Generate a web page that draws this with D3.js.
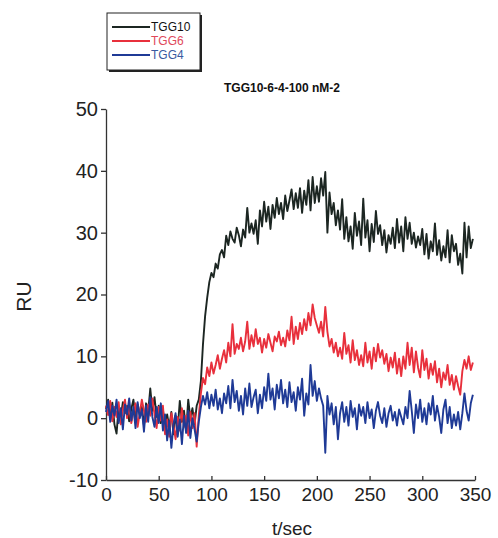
<!DOCTYPE html>
<html>
<head>
<meta charset="utf-8">
<script src="https://cdn.jsdelivr.net/npm/d3@7"></script>
<style>
  body { margin: 0; background: #fff; }
  svg { font-family: "Liberation Sans", Arial, sans-serif; }
</style>
</head>
<body>
<div id="chart"></div>
<script>
// sensorgram, one reading every 2 s starting at t = 0
const tStep = 2;
const seriesNames = ['TGG10', 'TGG6', 'TGG4'];
const seriesColors = ['#1c2622', '#e8303c', '#1f3a96'];
const legendTextColors = ['#111', '#e0485a', '#3a5aa0'];
const xTicks = [0, 50, 100, 150, 200, 250, 300, 350];
const yTicks = [-10, 0, 10, 20, 30, 40, 50];

const tgg10 = [
  1.5, 3.0, 0.5, 2.5, -1.0, -2.5, 1.8, 0.2, 2.6, 0.8, 2.0, -0.5, 1.5, 3.0, 0.0, 2.2, 0.6, 1.8, -1.2, 2.4,
  1.0, 4.8, 1.2, 3.4, 0.2, 2.0, -0.8, 1.4, -2.0, 0.6, -1.5, 1.0, -2.6, 0.4, -1.8, 2.8, -0.6, 1.2, -2.2, 3.0,
  0.0, 1.6, -1.0, 2.0, 3.0, 6.0, 12.0, 16.5, 19.5, 22.0, 23.5, 22.8, 25.0, 24.2, 26.5, 27.2, 26.0, 29.5, 28.0, 30.2,
  29.0, 28.4, 30.8, 29.6, 27.8, 30.5, 29.2, 34.0, 30.0, 31.5, 29.8, 32.0, 28.2, 33.6, 31.0, 35.0, 31.8, 34.2, 30.6, 34.5,
  32.4, 35.6, 33.0, 34.8, 32.2, 36.0, 33.5, 35.2, 37.0, 33.8, 36.4, 34.0, 37.2, 33.2, 36.8, 34.5, 38.5, 33.6, 39.0, 34.8,
  37.5, 35.0, 38.8, 36.0, 39.8, 30.0, 36.5, 33.0, 34.8, 31.2, 33.6, 30.5, 35.4, 29.0, 32.5, 28.6, 31.0, 27.4, 33.2, 29.5,
  31.8, 28.0, 35.5, 29.2, 32.0, 27.0, 31.4, 28.5, 33.5, 29.8, 31.2, 28.0, 30.4, 26.8, 29.6, 28.2, 30.8, 27.5, 32.2, 28.4,
  31.0, 27.0, 32.5, 29.0, 31.6, 28.2, 30.0, 27.6, 29.4, 28.0, 30.6, 26.5, 29.8, 25.8, 28.6, 27.0, 31.5, 26.4, 28.8, 25.5,
  27.8, 26.0, 30.4, 25.2, 29.6, 27.0, 28.2, 24.8, 26.6, 23.4, 31.6, 26.0, 31.0, 27.5, 29.0
];
const tgg6 = [
  2.0, 0.5, 2.8, -0.5, 1.8, 0.2, 2.6, -1.0, 1.4, 3.0, 0.0, 2.2, -0.8, 1.0, 2.4, -1.4, 0.8, 3.0, 1.2, -0.6,
  2.2, 0.4, 3.2, 0.6, -1.6, 1.8, -0.4, 2.0, -2.6, -0.2, -3.0, 0.8, -1.2, -3.4, 0.2, -2.0, 1.6, -1.4, 0.4, -2.8,
  1.0, -1.6, 0.8, -4.6, 0.4, 4.0, 6.5, 5.5, 8.2, 6.8, 9.0, 7.2, 8.6, 10.2, 8.0, 9.6, 11.0, 9.0, 12.2, 10.0,
  15.2, 10.4, 12.0, 11.2, 13.0, 10.8, 12.4, 15.6, 11.2, 13.4, 11.6, 14.4, 12.0, 13.0, 10.6, 12.8, 11.4, 13.6, 12.2, 10.8,
  13.2, 12.4, 14.0, 11.8, 13.0, 11.6, 14.2, 12.6, 16.4, 12.0, 14.8, 12.8, 15.4, 13.6, 16.0, 14.2, 17.0, 15.0, 18.4, 16.2,
  15.0, 13.8, 15.6, 13.2, 18.0, 14.0, 11.6, 12.8, 10.6, 12.2, 10.0, 11.4, 9.6, 13.8, 10.4, 11.8, 9.0, 12.6, 9.4, 11.0,
  8.6, 10.2, 8.4, 12.2, 9.0, 10.8, 8.0, 11.4, 9.2, 12.0, 9.8, 11.0, 8.8, 10.4, 7.6, 9.8, 8.2, 10.6, 7.2, 9.6,
  6.8, 10.0, 8.0, 12.2, 8.6, 11.4, 7.4, 10.8, 8.2, 6.6, 11.0, 7.8, 9.6, 6.4, 8.8, 7.0, 9.2, 5.8, 8.0, 5.0,
  7.4, 6.2, 8.6, 5.4, 7.0, 4.6, 6.8, 5.2, 3.8, 7.6, 9.4, 8.0, 10.0, 7.8, 9.0
];
const tgg4 = [
  1.0, 2.8, -0.6, 2.0, 0.4, 3.0, -0.8, 1.6, -1.8, 2.2, 0.6, 3.2, -0.4, 1.8, -1.6, 2.6, 0.0, 1.4, -2.2, 2.0,
  -0.6, 3.4, 0.2, -1.4, 1.8, -0.8, 2.4, -2.0, 0.6, -3.6, -0.4, -4.8, -1.0, 0.8, -3.0, -0.2, -4.2, 0.4, -2.4, 1.2,
  -3.2, 0.0, -1.8, -3.8, -0.6, 1.8, 3.6, 2.2, 4.2, 1.6, 3.8, 2.0, 4.6, 1.4, 3.2, 0.8, 4.0, 2.4, 5.2, 1.6,
  6.2, 2.6, 4.4, 1.2, 3.6, 0.6, 4.8, 2.0, 5.6, 1.8, 3.4, 4.6, 0.8, 3.8, 1.6, 5.0, 2.8, 7.2, 3.0, 4.8,
  1.4, 5.4, 3.2, 6.2, 2.4, 4.6, 1.8, 5.8, 2.6, 4.2, 1.2, 5.0, 3.0, 6.4, 0.4, 4.0, 2.2, 8.6, 3.6, 6.0,
  2.8, 4.8, 3.2, 2.0, -5.6, 3.6, 0.6, 2.4, -1.0, 1.8, -3.4, 0.8, 2.6, -0.6, 1.8, -1.2, 2.8, 0.2, 1.6, -1.8,
  2.2, 0.4, 1.8, -0.8, 2.6, 0.0, 1.4, -1.6, 1.2, 2.6, 0.4, -0.8, 1.6, -1.4, 0.8, 2.0, -0.4, 1.0, -1.2, 1.4,
  0.2, -1.0, 1.8, 0.0, 4.4, 1.2, -2.4, 2.2, 0.0, 3.0, -0.6, 1.6, -1.0, 2.4, 0.6, 3.6, -0.4, 2.0, 0.2, -2.4,
  1.4, 3.0, -0.8, 1.8, -1.6, 0.6, -1.2, 1.0, -1.8, 0.8, 4.0, 1.2, -0.4, 2.4, 3.8
];
const seriesValues = [tgg10, tgg6, tgg4];

const width = 498, height = 538;
const margins = { top: 109, left: 106, right: 23, bottom: 58 };

let svg = d3.select('#chart').append('svg')
  .attr('width', width)
  .attr('height', height);

let xScale = d3.scaleLinear()
  .domain([0, 350])
  .range([margins.left, width - margins.right]);
let yScale = d3.scaleLinear()
  .domain([-10, 50])
  .range([height - margins.bottom, margins.top]);

// axes (plain hyphen for negatives, as in the original)
let gX = svg.append('g')
  .attr('class', 'x axis')
  .attr('transform', `translate(0,${yScale(-10)})`)
  .call(d3.axisBottom(xScale).tickValues(xTicks).tickFormat(d => String(d))
    .tickSizeInner(-4).tickSizeOuter(0).tickPadding(8));
gX.selectAll('text').attr('font-size', '19px').attr('fill', '#222');

let gY = svg.append('g')
  .attr('class', 'y axis')
  .attr('transform', `translate(${xScale(0)},0)`)
  .call(d3.axisLeft(yScale).tickValues(yTicks).tickFormat(d => String(d))
    .tickSizeInner(5).tickSizeOuter(0).tickPadding(3));
gY.selectAll('text').attr('font-size', '20px').attr('fill', '#222');
svg.selectAll('.axis path, .axis line').attr('stroke', '#333').attr('stroke-width', 1.3);

svg.append('text')
  .attr('transform', `translate(31,${(yScale(50) + yScale(-10)) / 2 + 2}) rotate(-90)`)
  .attr('text-anchor', 'middle')
  .attr('font-size', '21px')
  .attr('fill', '#222')
  .text('RU');

svg.append('text')
  .attr('x', 292)
  .attr('y', 535)
  .attr('text-anchor', 'middle')
  .attr('font-size', '19px')
  .attr('fill', '#222')
  .text('t/sec');

svg.append('text')
  .attr('x', 282)
  .attr('y', 92)
  .attr('text-anchor', 'middle')
  .attr('font-size', '12px')
  .attr('font-weight', 'bold')
  .attr('fill', '#111')
  .text('TGG10-6-4-100 nM-2');

// 画线
let line = d3.line()
  .x((d, i) => xScale(i * tStep))
  .y(d => yScale(d));
seriesValues.forEach((vals, k) => {
  svg.append('path')
    .datum(vals)
    .attr('fill', 'none')
    .attr('stroke', seriesColors[k])
    .attr('stroke-width', 1.9)
    .attr('stroke-linejoin', 'round')
    .attr('d', line);
});

// legend box with drop shadow
let lg = svg.append('g').attr('class', 'legend');
lg.append('rect')
  .attr('x', 109).attr('y', 15).attr('width', 93).attr('height', 57)
  .attr('fill', '#222');
lg.append('rect')
  .attr('x', 107).attr('y', 13).attr('width', 93).attr('height', 57)
  .attr('fill', '#fff').attr('stroke', '#222').attr('stroke-width', 1);
seriesNames.forEach((name, k) => {
  let y = 27 + k * 14;
  lg.append('line')
    .attr('x1', 112).attr('x2', 150).attr('y1', y).attr('y2', y)
    .attr('stroke', seriesColors[k]).attr('stroke-width', 2);
  lg.append('text')
    .attr('x', 151).attr('y', y + 4)
    .attr('font-size', '12px')
    .attr('fill', legendTextColors[k])
    .text(name);
});
</script>
</body>
</html>
